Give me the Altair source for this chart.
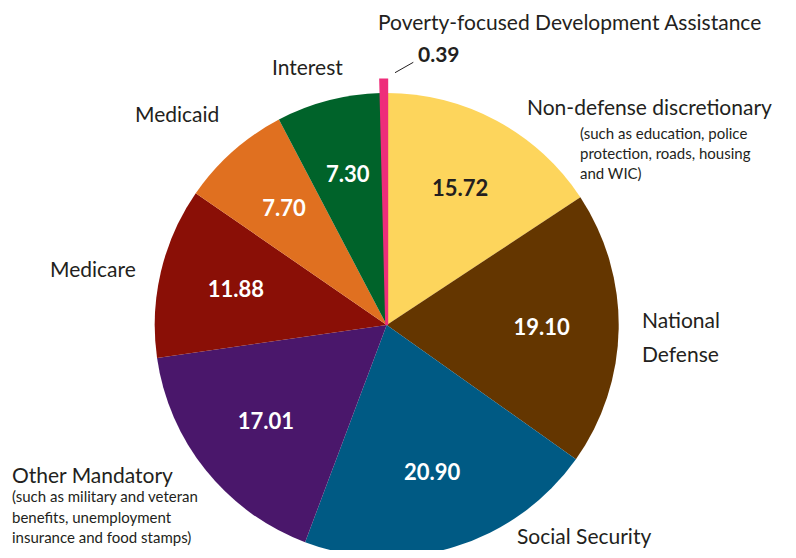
import altair as alt
import pandas as pd

categories = ["Non-defense discretionary", "National Defense", "Social Security",
              "Other Mandatory", "Medicare", "Medicaid", "Interest",
              "Poverty-focused Development Assistance"]
values = [15.72, 19.10, 20.90, 17.01, 11.88, 7.70, 7.30, 0.39]
colors = ["#FDD55C", "#643600", "#005A84", "#4A176B", "#8A0F06", "#E07020", "#00632A", "#EE2D7A"]
label_colors = ["#231F20", "white", "white", "white", "white", "white", "white", "white"]

df = pd.DataFrame({"cat": categories, "v": values, "idx": list(range(len(values))),
                   "lc": label_colors})

FONT = "Lato"
TXT = "#231F20"
CX, CY, R = 378.7, 317, 232
POV = categories[-1]

color_scale = alt.Scale(domain=categories, range=colors)

base = alt.Chart(df).encode(
    theta=alt.Theta("v:Q", stack=True),
    order=alt.Order("idx:Q"),
    x=alt.value(CX), y=alt.value(CY),
)

pie = base.mark_arc(radius=R).encode(
    color=alt.Color("cat:N", scale=color_scale, legend=None),
)

explode = base.mark_arc(radius=245, stroke="#EE2D7A", strokeWidth=3, strokeJoin="miter").encode(
    color=alt.Color("cat:N", scale=color_scale, legend=None),
    opacity=alt.condition(alt.datum.cat == POV, alt.value(1), alt.value(0)),
)

nums = base.mark_text(radius=155, font=FONT, fontSize=22, fontWeight="bold").encode(
    text=alt.Text("v:Q", format=".2f"),
    color=alt.Color("lc:N", scale=None),
    opacity=alt.condition(alt.datum.cat == POV, alt.value(0), alt.value(1)),
)

dummy = pd.DataFrame({"a": [0]})


def note(text, x, y, size=21, weight="normal", lh=None):
    kw = dict(font=FONT, fontSize=size, fontWeight=weight, align="left",
              baseline="alphabetic", color=TXT)
    if lh:
        kw["lineHeight"] = lh
    return alt.Chart(dummy).mark_text(**kw).encode(
        x=alt.value(x), y=alt.value(y), text=alt.value(text))


notes = [
    note("Poverty-focused Development Assistance", 370, 22),
    note("0.39", 410, 54, weight="bold"),
    note("Interest", 264, 67),
    note("Non-defense discretionary", 519, 107),
    note(["(such as education, police", "protection, roads, housing", "and WIC)"], 572, 131, size=15, lh=20),
    note("Medicaid", 127, 114),
    note("Medicare", 42, 269),
    note(["National", "Defense"], 634, 320, lh=34),
    note("Other Mandatory", 4, 475),
    note(["(such as military and veteran", "benefits, unemployment", "insurance and food stamps)"], 4, 494, size=15, lh=20.5),
    note("Social Security", 509, 536),
]

leader = alt.Chart(dummy).mark_rule(color=TXT, strokeWidth=1).encode(
    x=alt.value(387), y=alt.value(64.7), x2=alt.value(405.3), y2=alt.value(54.3))

chart = alt.layer(pie, explode, nums, leader, *notes).properties(
    width=780, height=542,
    autosize=alt.AutoSizeParams(type="none"),
    padding=0,
).configure_view(stroke=None)

chart.save("out.html", embed_options={"renderer": "svg", "actions": False})
